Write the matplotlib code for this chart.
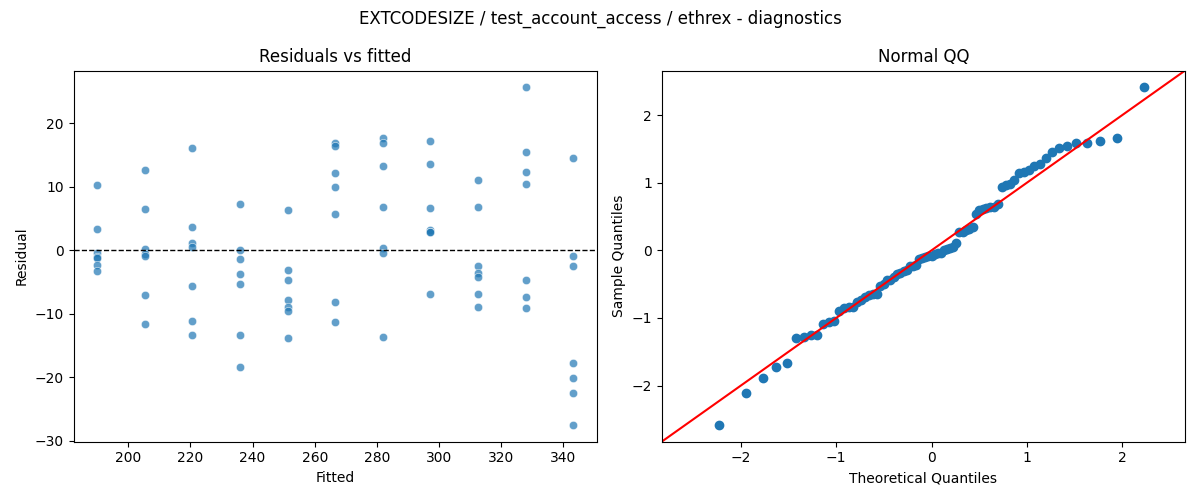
import statistics

import matplotlib
matplotlib.use("Agg")
import matplotlib.pyplot as plt
import numpy as np
import seaborn as sns

# valeurs ajustees (une par niveau) et residus
fitted_levels = [190.0, 205.3, 220.6, 236.0, 251.3, 266.6, 281.9, 297.2, 312.6, 327.9, 343.2]
residuals_by_level = [
    [10.2, 3.3, -0.5, -1.1, -1.3, -2.3, -3.3],
    [12.6, 6.5, 0.2, -0.6, -0.9, -7.1, -11.7],
    [16.0, 3.6, 1.1, 0.5, -5.7, -11.2, -13.4],
    [7.2, 0.0, -1.4, -3.8, -5.3, -13.4, -18.4],
    [6.3, -3.1, -4.7, -7.9, -9.0, -9.6, -13.9],
    [16.8, 16.4, 12.1, 9.9, 5.7, -8.2, -11.3],
    [17.6, 16.9, 13.3, 6.8, 0.4, -0.4, -13.7],
    [17.1, 13.5, 6.7, 3.1, 2.9, 2.8, -6.9],
    [11.1, 6.8, -2.5, -3.6, -4.2, -6.9, -8.9],
    [25.6, 15.5, 12.3, 10.4, -4.7, -7.4, -9.1],
    [14.5, -0.9, -2.5, -17.7, -20.1, -22.5, -27.5],
]

fitted = []
resid = []
for f, rs in zip(fitted_levels, residuals_by_level):
    for r in rs:
        fitted.append(f)
        resid.append(r)
fitted = np.array(fitted)
resid = np.array(resid)

fig, (ax1, ax2) = plt.subplots(1, 2, figsize=(12, 5))

# --- residus vs valeurs ajustees ---
sns.scatterplot(x=fitted, y=resid, alpha=0.7, ax=ax1)
ax1.axhline(0, color="black", linestyle="--", linewidth=1)
ax1.set_xlabel("Fitted")
ax1.set_ylabel("Residual")
ax1.set_title("Residuals vs fitted")

# --- QQ plot (comme statsmodels qqplot, fit=True, line='45') ---
n = len(resid)
sample_q = (np.sort(resid) - resid.mean()) / resid.std()
nd = statistics.NormalDist()
theo_q = np.array([nd.inv_cdf(i / (n + 1)) for i in range(1, n + 1)])

ax2.plot(theo_q, sample_q, marker="o", linestyle="none", color="C0")
xlim = ax2.get_xlim()
ylim = ax2.get_ylim()
end_pts = [min(xlim[0], ylim[0]), max(xlim[1], ylim[1])]
ax2.plot(end_pts, end_pts, "r-")
ax2.set_xlim(end_pts)
ax2.set_ylim(end_pts)
ax2.set_xlabel("Theoretical Quantiles")
ax2.set_ylabel("Sample Quantiles")
ax2.set_title("Normal QQ")

fig.suptitle("EXTCODESIZE / test_account_access / ethrex - diagnostics")
fig.tight_layout()
fig.savefig("out.png", dpi=100)
